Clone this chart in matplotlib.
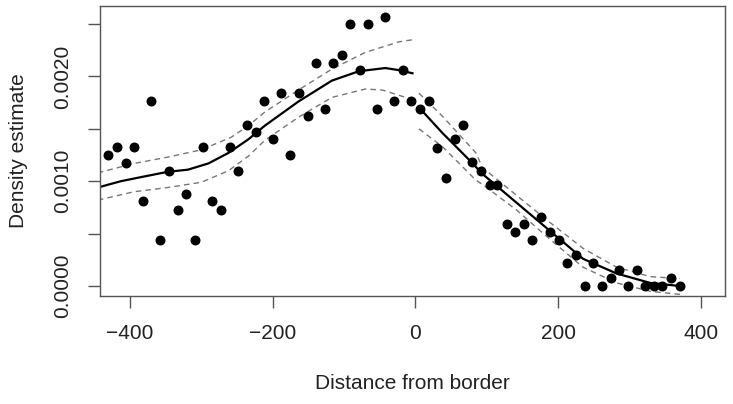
import numpy as np
import matplotlib
matplotlib.use("Agg")
import matplotlib.pyplot as plt

plt.rcParams['font.family'] = ['Liberation Sans', 'DejaVu Sans']

# binned density estimates
dist = [-431, -418, -406, -394, -382, -370, -358, -345, -333, -321, -309, -297,
        -285, -273, -260, -248, -236, -224, -212, -200, -188, -176, -163, -151,
        -139, -127, -115, -103, -91, -78, -66, -54, -42, -30, -17, -6,
        7, 19, 31, 43, 55, 67, 79, 92, 104, 115, 128, 140, 152, 164, 176, 189,
        201, 213, 225, 238, 249, 261, 274, 286, 298, 310, 322, 334, 346, 359, 371]
dens = [0.00125, 0.00133, 0.00117, 0.00133, 0.00081, 0.00177, 0.00044, 0.00110,
        0.00073, 0.00088, 0.00044, 0.00133, 0.00081, 0.00073, 0.00133, 0.00110,
        0.00154, 0.00147, 0.00177, 0.00140, 0.00184, 0.00125, 0.00184, 0.00162,
        0.00213, 0.00169, 0.00213, 0.00220, 0.00250, 0.00206, 0.00250, 0.00169,
        0.00257, 0.00177, 0.00206, 0.00177,
        0.00169, 0.00177, 0.00132, 0.00103, 0.00140, 0.00154, 0.00118, 0.00110,
        0.00096, 0.00096, 0.00059, 0.00052, 0.00059, 0.00044, 0.00066, 0.00052,
        0.00044, 0.00022, 0.00030, 0.00000, 0.00022, 0.00000, 0.00008, 0.00015,
        0.00000, 0.00015, 0.00000, 0.00000, 0.00000, 0.00008, 0.00000]

# left-side fit (x < 0)
fit_left_x = [-445, -413, -384, -347, -319, -290, -262, -234, -211, -164, -117,
              -79, -42, -23, -4]
fit_left = [0.00094, 0.00100, 0.00104, 0.00109, 0.00111, 0.00117, 0.00127,
            0.00140, 0.00153, 0.00176, 0.00196, 0.00205, 0.00208, 0.00206,
            0.00203]
up_left_x = [-445, -394, -347, -300, -258, -234, -211, -164, -117, -70, -23, -4]
up_left = [0.00108, 0.00117, 0.00123, 0.00130, 0.00142, 0.00153, 0.00166,
           0.00187, 0.00207, 0.00223, 0.00233, 0.00235]
lo_left_x = [-445, -394, -347, -300, -262, -234, -211, -164, -117, -70, -46,
             -9, -4]
lo_left = [0.00082, 0.00090, 0.00094, 0.00099, 0.00110, 0.00124, 0.00139,
           0.00161, 0.00180, 0.00188, 0.00187, 0.00179, 0.00177]

# right-side fit (x > 0)
fit_right_x = [7, 38, 76, 94, 141, 188, 235, 282, 329, 371]
fit_right = [0.00169, 0.00146, 0.00120, 0.00107, 0.00080, 0.00053, 0.00026,
             0.00012, 0.00003, 0.00000]
ci_right_x = [5, 38, 85, 94, 141, 188, 235, 282, 329, 371]
up_right = [0.00184, 0.00162, 0.00127, 0.00113, 0.00087, 0.00061, 0.00036,
            0.00018, 0.00009, 0.00007]
lo_right = [0.00150, 0.00133, 0.00101, 0.00097, 0.00073, 0.00045, 0.00018,
            0.00003, -0.00005, -0.00008]

yticks = [0.0, 0.0005, 0.0010, 0.0015, 0.0020, 0.0025]
ytick_labels = ['0.0000', '', '0.0010', '', '0.0020', '']

fig = plt.figure(figsize=(7.33, 4.04), dpi=100)
ax = fig.add_axes([100/733, 1 - 296/404, 625/733, 290/404])

dash = dict(color='#777777', lw=1, ls=(0, (4, 3)))
ax.plot(up_left_x, up_left, **dash)
ax.plot(lo_left_x, lo_left, **dash)
ax.plot(ci_right_x, up_right, **dash)
ax.plot(ci_right_x, lo_right, **dash)
ax.plot(fit_left_x, fit_left, color='black', lw=1.6)
ax.plot(fit_right_x, fit_right, color='black', lw=1.6)
ax.scatter(dist, dens, s=38, color='black', zorder=3)

ax.set_xlim(-442, 434)
ax.set_ylim(-0.000095, 0.002672)
ax.set_xticks([-400, -200, 0, 200, 400])
ax.set_yticks(yticks)
ax.set_yticklabels(ytick_labels, rotation=90, va='center')
ax.tick_params(direction='out', length=8.4, width=1, color='#555555',
               labelsize=15, pad=12, labelcolor='#222222')
for s in ax.spines.values():
    s.set_color('#555555')
    s.set_linewidth(1)

ax.set_xlabel('Distance from border', fontsize=15, labelpad=22, color='#222222')
ax.set_ylabel('Density estimate', fontsize=15, labelpad=18, color='#222222')

fig.savefig('out.png', dpi=100)
